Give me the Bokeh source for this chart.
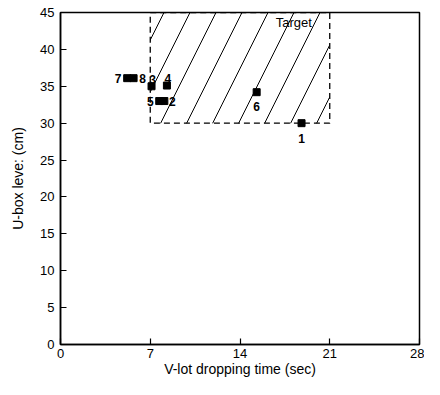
from bokeh.plotting import figure
from bokeh.models import FixedTicker, Range1d, ColumnDataSource, LabelSet
from bokeh.core.properties import value
from bokeh.embed import file_html
from bokeh.resources import INLINE

# data
point_ids = ["1", "2", "3", "4", "5", "6", "7", "8"]
drop_time = [18.8, 8.1, 7.1, 8.3, 7.7, 15.3, 5.2, 5.7]
ubox_level = [30.0, 33.0, 35.0, 35.1, 33.0, 34.2, 36.1, 36.1]
target_time = [7, 21]
target_level = [30, 45]
x_ticks = [0, 7, 14, 21, 28]
y_ticks = [0, 5, 10, 15, 20, 25, 30, 35, 40, 45]

# label placement (style)
dx = [0, 8, 1, 1, -9, 0, -9, 9]
dy = [-15, 0, 7, 7, 0, -14, 0, 0]

FONT = "Liberation Sans"

p = figure(width=424, height=379, output_backend="svg", toolbar_location=None,
           x_range=Range1d(0, 28), y_range=Range1d(0, 45),
           min_border_left=60, min_border_right=5, min_border_top=12, min_border_bottom=34)
p.background_fill_color = "white"
p.border_fill_color = "white"
p.grid.visible = False
p.outline_line_color = "black"
p.outline_line_width = 1.5

# target region
p.quad(left=[target_time[0]], right=[target_time[1]], bottom=[target_level[0]], top=[target_level[1]],
       fill_color=None, fill_alpha=0, hatch_pattern="/", hatch_color="black", hatch_scale=52,
       hatch_weight=1, line_color="black", line_dash="6 4", line_width=1.3)
p.text(x=[18.2], y=[43.6], text=["Target"], text_font=value(FONT), text_font_size="13px",
       text_align="center", text_baseline="middle", text_color="black")

src = ColumnDataSource(dict(x=drop_time, y=ubox_level, lab=point_ids, dx=dx, dy=dy))
p.scatter("x", "y", source=src, marker="square", size=7, color="black")
labels = LabelSet(x="x", y="y", text="lab", source=src, x_offset="dx", y_offset="dy",
                  text_font=value(FONT), text_font_size="12px", text_font_style="bold",
                  text_align="center", text_baseline="middle", text_color="black")
p.add_layout(labels)

p.xaxis.ticker = FixedTicker(ticks=x_ticks)
p.yaxis.ticker = FixedTicker(ticks=y_ticks)
for ax in (p.xaxis, p.yaxis):
    ax.major_tick_in = 6
    ax.major_tick_out = 0
    ax.minor_tick_line_color = None
    ax.axis_line_width = 1.5
    ax.major_tick_line_width = 1.2
    ax.major_label_text_font = FONT
    ax.major_label_text_font_size = "13px"
    ax.major_label_text_color = "black"
    ax.axis_label_text_font = FONT
    ax.axis_label_text_font_size = "14px"
    ax.axis_label_text_font_style = "normal"
    ax.axis_label_text_color = "black"
p.xaxis.axis_label = "V-lot dropping time (sec)"
p.yaxis.axis_label = "U-box leve: (cm)"
p.xaxis.major_label_standoff = 4
p.xaxis.axis_label_standoff = 0
p.yaxis.major_label_standoff = 6
p.yaxis.axis_label_standoff = 11

open("out.html", "w").write(file_html(p, INLINE))
